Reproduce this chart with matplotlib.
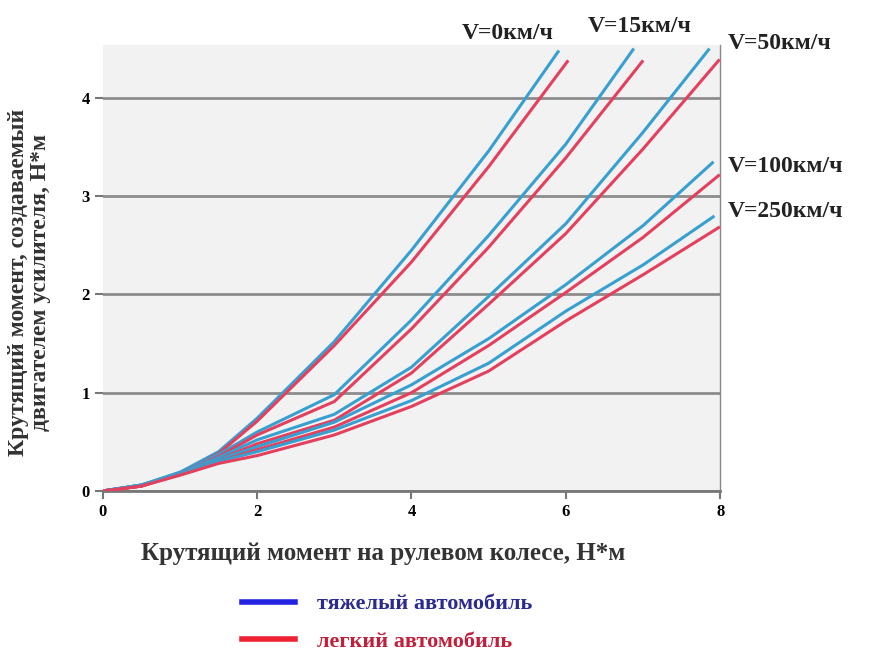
import matplotlib
matplotlib.use("Agg")
import matplotlib.pyplot as plt
from matplotlib.lines import Line2D

# Крутящий момент на рулевом колесе (ось X) и момент усилителя (ось Y)
speeds = ['V=0км/ч', 'V=15км/ч', 'V=50км/ч', 'V=100км/ч', 'V=250км/ч']

x_heavy = [
    [0, 0.5, 1, 1.5, 2, 3, 4, 5, 5.9],
    [0, 0.5, 1, 1.5, 2, 3, 4, 5, 6, 6.87],
    [0, 0.5, 1, 1.5, 2, 3, 4, 5, 6, 7, 7.85],
    [0, 0.5, 1, 1.5, 2, 3, 4, 5, 6, 7, 7.9],
    [0, 0.5, 1, 1.5, 2, 3, 4, 5, 6, 7, 7.91],
]
y_heavy = [
    [0, 0.06, 0.19, 0.4, 0.74, 1.52, 2.45, 3.46, 4.47],
    [0, 0.06, 0.19, 0.37, 0.6, 0.98, 1.74, 2.6, 3.53, 4.49],
    [0, 0.06, 0.18, 0.34, 0.52, 0.78, 1.26, 1.98, 2.72, 3.65, 4.49],
    [0, 0.06, 0.18, 0.32, 0.45, 0.7, 1.08, 1.55, 2.1, 2.7, 3.34],
    [0, 0.06, 0.17, 0.3, 0.4, 0.62, 0.92, 1.3, 1.83, 2.3, 2.79],
]

x_light = [
    [0, 0.5, 1, 1.5, 2, 3, 4, 5, 6.02],
    [0, 0.5, 1, 1.5, 2, 3, 4, 5, 6, 6.99],
    [0, 0.5, 1, 1.5, 2, 3, 4, 5, 6, 7, 7.98],
    [0, 0.5, 1, 1.5, 2, 3, 4, 5, 6, 7, 7.98],
    [0, 0.5, 1, 1.5, 2, 3, 4, 5, 6, 7, 7.98],
]
y_light = [
    [0, 0.05, 0.18, 0.38, 0.71, 1.48, 2.33, 3.3, 4.37],
    [0, 0.05, 0.18, 0.35, 0.57, 0.91, 1.65, 2.48, 3.39, 4.37],
    [0, 0.05, 0.17, 0.32, 0.48, 0.72, 1.2, 1.9, 2.62, 3.48, 4.38],
    [0, 0.05, 0.17, 0.3, 0.42, 0.65, 1.0, 1.48, 2.02, 2.58, 3.21],
    [0, 0.05, 0.16, 0.28, 0.36, 0.57, 0.86, 1.22, 1.73, 2.2, 2.68],
]

# позиции подписей скоростей
label_x = [5.25, 6.96, 8.1, 8.1, 8.1]
label_y = [4.66, 4.73, 4.55, 3.3, 2.84]
label_ha = ['center', 'center', 'left', 'left', 'left']

plt.rcParams['font.family'] = ['Liberation Serif', 'DejaVu Serif']
plt.rcParams['font.weight'] = 'bold'

fig = plt.figure(figsize=(8.71, 6.57), dpi=100)
ax = fig.add_axes([0.118, 0.2527, 0.7088, 0.679])
ax.set_facecolor('#f2f2f2')

for i in range(len(speeds)):
    ax.plot(x_heavy[i], y_heavy[i], color='#38a0d0', lw=2.2, zorder=3)
    ax.plot(x_light[i], y_light[i], color='#e4405e', lw=2.2, zorder=3)
    ax.text(label_x[i], label_y[i], speeds[i], ha=label_ha[i], va='center',
            fontsize=17, fontweight='bold', color='#222222', clip_on=False)

ax.set_xlim(0, 8)
ax.set_ylim(0, 4.54)
ax.set_xticks([0, 2, 4, 6, 8])
ax.set_yticks([0, 1, 2, 3, 4])
ax.grid(axis='y', color='#8c8c8c', lw=2)
ax.set_axisbelow(True)

ax.spines['left'].set_visible(False)
ax.spines['top'].set_visible(False)
ax.spines['right'].set_color('#888888')
ax.spines['right'].set_linewidth(1)
ax.spines['bottom'].set_color('#777777')
ax.spines['bottom'].set_linewidth(2)
ax.tick_params(axis='both', labelsize=12, color='#777777', width=1.5, length=6)

ax.set_xlabel('Крутящий момент на рулевом колесе, Н*м', fontsize=18,
              fontweight='bold', color='#333333')
ax.xaxis.set_label_coords(0.455, -0.115)
fig.text(0.034, 0.57, 'Крутящий момент, создаваемый\nдвигателем усилителя, Н*м',
         rotation=90, ha='center', va='center', fontsize=17,
         fontweight='bold', color='#333333', linespacing=1.1)

handles = [Line2D([0], [0], color='#2222e0', lw=4),
           Line2D([0], [0], color='#ee2233', lw=4)]
fig.legend(handles, ['тяжелый автомобиль', 'легкий автомобиль'],
           loc='upper left', bbox_to_anchor=(0.265, 0.113), frameon=False,
           labelcolor=['#2a2a90', '#c0203c'], fontsize=16, handlelength=2.4,
           labelspacing=0.75, handletextpad=1.0, borderpad=0)

fig.savefig('out.png', dpi=100)
